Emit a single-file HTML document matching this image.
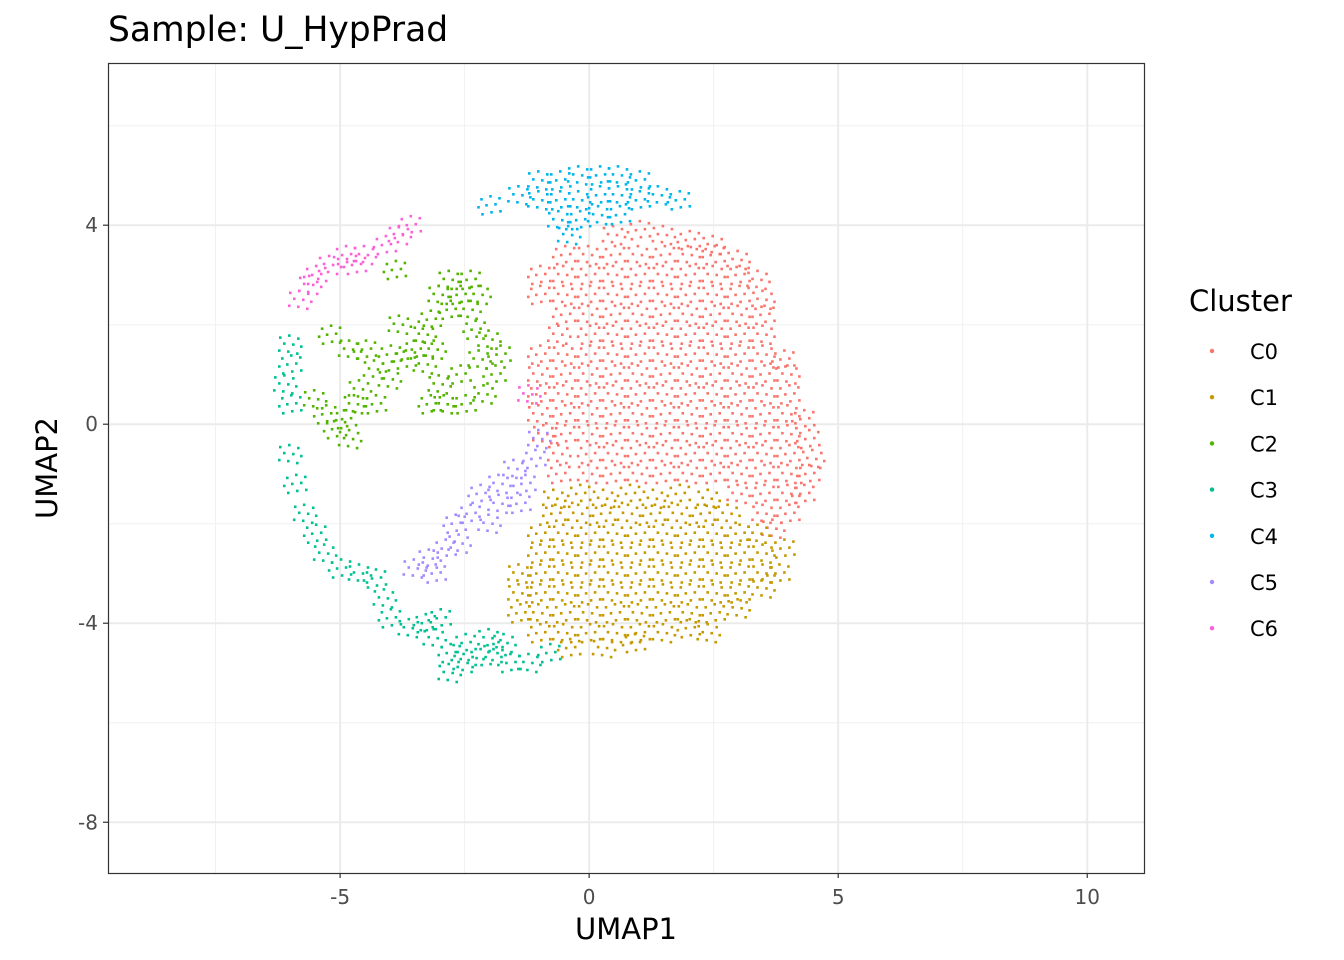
<!DOCTYPE html>
<html><head><meta charset="utf-8"><style>
html,body{margin:0;padding:0;background:#fff;}
svg{display:block;font-family:"DejaVu Sans","Liberation Sans",sans-serif;}
</style></head><body>
<svg id="chart" width="1344" height="960" viewBox="0 0 1344 960">
<text x="108" y="41" font-size="34.5" fill="#000">Sample: U_HypPrad</text>
<g id="grid"></g>
<g id="points"></g>
<rect x="108.5" y="63.5" width="1036" height="810" fill="none" stroke="#333" stroke-width="1.2"/>
<g id="axes"></g>
<text x="626" y="939" font-size="29" text-anchor="middle" fill="#000">UMAP1</text>
<text x="0" y="0" font-size="29" text-anchor="middle" fill="#000" transform="translate(57,468) rotate(-90)">UMAP2</text>
<text x="1189" y="311" font-size="29" fill="#000">Cluster</text>
<g id="legend"></g>
</svg>
<script>
const clusterNames = ["C0","C1","C2","C3","C4","C5","C6"];
const clusterColors = ["#F8766D","#C49A00","#53B400","#00C094","#00B6EB","#A58AFF","#FB61D7"];
const xTicks = [-5,0,5,10];
const yTicks = [4,0,-4,-8];
const xMinor = [-7.5,-2.5,2.5,7.5];
const yMinor = [6,2,-2,-6];
const c0Points = [
[0.5,3.8],[1,3.9],[1.5,3.8],[2,3.7],[2.5,3.6],
[-0.5,3.4],[0,3.4],[0.5,3.4],[1,3.4],[1.5,3.4],[2,3.4],[2.5,3.4],[3,3.3],
[-1,3.0],[-0.5,3.0],[0,3.0],[0.5,3.0],[1,3.0],[1.5,3.0],[2,3.0],[2.5,3.0],[3,3.0],[3.4,2.9],
[-1,2.6],[-0.5,2.6],[0,2.6],[0.5,2.6],[1,2.6],[1.5,2.6],[2,2.6],[2.5,2.6],[3,2.6],[3.5,2.5],
[-0.5,2.2],[0,2.2],[0.5,2.2],[1,2.2],[1.5,2.2],[2,2.2],[2.5,2.2],[3,2.2],[3.5,2.2],
[-0.6,1.8],[0,1.8],[0.5,1.8],[1,1.8],[1.5,1.8],[2,1.8],[2.5,1.8],[3,1.8],[3.5,1.8],
[-1,1.4],[-0.5,1.4],[0,1.4],[0.5,1.4],[1,1.4],[1.5,1.4],[2,1.4],[2.5,1.4],[3,1.4],[3.5,1.4],[3.9,1.3],
[-1,1.0],[-0.5,1.0],[0,1.0],[0.5,1.0],[1,1.0],[1.5,1.0],[2,1.0],[2.5,1.0],[3,1.0],[3.5,1.0],[4,1.0],
[-1,0.6],[-0.5,0.6],[0,0.6],[0.5,0.6],[1,0.6],[1.5,0.6],[2,0.6],[2.5,0.6],[3,0.6],[3.5,0.6],[4,0.6],
[-1,0.2],[-0.5,0.2],[0,0.2],[0.5,0.2],[1,0.2],[1.5,0.2],[2,0.2],[2.5,0.2],[3,0.2],[3.5,0.2],[4,0.2],[4.3,0.1],
[-0.9,-0.2],[-0.5,-0.2],[0,-0.2],[0.5,-0.2],[1,-0.2],[1.5,-0.2],[2,-0.2],[2.5,-0.2],[3,-0.2],[3.5,-0.2],[4,-0.2],[4.4,-0.3],
[-0.6,-0.6],[0,-0.6],[0.5,-0.6],[1,-0.6],[1.5,-0.6],[2,-0.6],[2.5,-0.6],[3,-0.6],[3.5,-0.6],[4,-0.6],[4.5,-0.7],
[-0.6,-1.0],[0,-1.0],[0.5,-1.0],[1,-1.0],[1.5,-1.0],[2,-1.0],[2.5,-1.0],[3,-1.0],[3.5,-1.0],[4,-1.0],[4.4,-1.0],
[3,-1.4],[3.5,-1.4],[4,-1.4],[4.3,-1.4],
[3.5,-1.8],[4,-1.8],[3.7,-2.1]
];
const c1Points = [
[-0.7,-1.5],[-0.2,-1.4],[0.3,-1.5],[0.8,-1.4],[1.3,-1.5],[1.8,-1.4],[2.4,-1.5],
[-0.7,-1.8],[-0.2,-1.8],[0.3,-1.8],[0.8,-1.8],[1.3,-1.8],[1.8,-1.8],[2.3,-1.8],[2.8,-1.8],
[-1.0,-2.2],[-0.5,-2.2],[0,-2.2],[0.5,-2.2],[1,-2.2],[1.5,-2.2],[2,-2.2],[2.5,-2.2],[3,-2.2],[3.4,-2.2],
[-1.0,-2.6],[-0.5,-2.6],[0,-2.6],[0.5,-2.6],[1,-2.6],[1.5,-2.6],[2,-2.6],[2.5,-2.6],[3,-2.6],[3.5,-2.6],[3.9,-2.5],
[-1.4,-3.0],[-1,-3.0],[-0.5,-3.0],[0,-3.0],[0.5,-3.0],[1,-3.0],[1.5,-3.0],[2,-3.0],[2.5,-3.0],[3,-3.0],[3.5,-3.0],[3.8,-3.0],
[-1.4,-3.4],[-1,-3.4],[-0.5,-3.4],[0,-3.4],[0.5,-3.4],[1,-3.4],[1.5,-3.4],[2,-3.4],[2.5,-3.4],[3,-3.4],[3.5,-3.3],
[-1.4,-3.8],[-1,-3.8],[-0.5,-3.8],[0,-3.8],[0.5,-3.8],[1,-3.8],[1.5,-3.8],[2,-3.8],[2.5,-3.8],[3,-3.7],
[-1.0,-4.2],[-0.5,-4.2],[0,-4.2],[0.5,-4.2],[1,-4.2],[1.5,-4.2],[2,-4.1],[2.4,-4.2],
[-0.4,-4.5],[0.3,-4.5],[0.9,-4.4]
];
const c2Points = [
[-2.8,2.9],[-2.4,2.9],[-3.0,2.6],[-2.6,2.6],[-2.2,2.6],[-2.8,2.3],[-2.4,2.3],[-3.2,2.1],[-3.3,1.8],[-3.5,1.5],
[-3.1,1.5],[-3.7,1.3],[-3.3,1.2],[-4.0,1.4],[-4.3,1.1],[-4.5,1.5],[-4.0,0.9],[-2.3,1.9],[-2.0,1.7],[-1.8,1.4],
[-2.2,1.3],[-1.9,1.0],[-2.1,0.6],[-2.5,0.4],[-2.9,0.4],[-3.2,0.4],[-3.0,0.8],[-4.9,0.1],[-4.7,0.4],[-5.1,-0.1],
[-4.8,-0.3],[-5.3,0.2],[-4.6,0.7],[-5.2,1.8],[-4.8,1.5],[-3.9,3.1],[-5.5,0.5],[-2.6,1.0],[-3.8,2.0],[-4.3,0.4]
];
const c3Points = [
[-6.0,1.6],[-6.0,1.2],[-6.1,0.8],[-6.0,0.4],[-6.0,-0.6],[-5.9,-1.2],[-5.7,-1.8],[-5.5,-2.2],[-5.3,-2.6],[-5.0,-2.9],
[-4.6,-3.0],[-4.3,-3.1],[-4.1,-3.5],[-4.0,-3.9],[-3.6,-4.1],[-3.3,-4.0],[-3.1,-4.3],[-2.8,-4.6],[-2.5,-4.8],[-2.2,-4.7],
[-1.9,-4.6],[-1.6,-4.8],[-1.2,-4.8],[-2.5,-4.4],[-2.0,-4.3],[-3.0,-3.9],[-1.7,-4.4],[-0.8,-4.6],[-2.8,-5.0]
];
const c4Points = [
[-1.0,4.9],[-0.6,4.9],[-0.2,5.0],[0.2,5.0],[0.6,5.0],[1.0,4.9],[-1.0,4.5],[-0.6,4.5],[-0.2,4.5],[0.2,4.6],
[0.6,4.6],[1.0,4.5],[1.4,4.6],[1.8,4.5],[-0.6,4.1],[-0.2,4.1],[0.2,4.2],[0.6,4.2],[-1.4,4.6],[-2.0,4.4],[-0.4,3.8]
];
const c5Points = [
[-1.0,-0.3],[-1.1,-0.7],[-1.5,-0.9],[-1.3,-1.2],[-1.8,-1.2],[-2.2,-1.4],[-1.8,-1.6],[-2.4,-1.8],[-2.0,-2.0],
[-2.7,-2.0],[-2.6,-2.4],[-2.9,-2.5],[-3.2,-2.7],[-3.1,-3.0],[-3.5,-2.9],[-1.4,-1.6]
];
const c6Points = [
[-5.6,2.8],[-5.5,3.0],[-5.2,3.2],[-4.9,3.4],[-4.5,3.4],[-4.1,3.6],[-3.8,3.8],[-3.6,4.0],[-5.8,2.5],[-4.7,3.2],[-1.2,0.6]
];
const allClusters = [c0Points,c1Points,c2Points,c3Points,c4Points,c5Points,c6Points];

const NS = "http://www.w3.org/2000/svg";
const PX0 = 108, PX1 = 1144, PY0 = 63, PY1 = 873;
const XMIN = -9.66, XMAX = 11.14, YMIN = -9.02, YMAX = 7.26;
function sx(v){ return PX0 + (v - XMIN) / (XMAX - XMIN) * (PX1 - PX0); }
function sy(v){ return PY1 - (v - YMIN) / (YMAX - YMIN) * (PY1 - PY0); }
function mk(tag, attrs, parent){ const e = document.createElementNS(NS, tag); for (const k in attrs) e.setAttribute(k, attrs[k]); parent.appendChild(e); return e; }

const grid = document.getElementById('grid');
const bg = mk('rect', {x:PX0, y:PY0, width:PX1-PX0, height:PY1-PY0, fill:'#fff'}, grid);


xMinor.forEach(v => { const l = mk('line', {x1:sx(v), x2:sx(v), y1:PY0, y2:PY1, stroke:'#f0f0f0', 'stroke-width':1}, grid);
  
   });
yMinor.forEach(v => { const l = mk('line', {x1:PX0, x2:PX1, y1:sy(v), y2:sy(v), stroke:'#f0f0f0', 'stroke-width':1}, grid);
  
   });
xTicks.forEach(v => { const l = mk('line', {x1:sx(v), x2:sx(v), y1:PY0, y2:PY1, stroke:'#ebebeb', 'stroke-width':2}, grid);
  
   });
yTicks.forEach(v => { const l = mk('line', {x1:PX0, x2:PX1, y1:sy(v), y2:sy(v), stroke:'#ebebeb', 'stroke-width':2}, grid);
  
   });

const axes = document.getElementById('axes');
xTicks.forEach(v => {
  const t = mk('line', {x1:sx(v), x2:sx(v), y1:PY1, y2:PY1+5, stroke:'#333', 'stroke-width':1.2}, axes);
  
  
  const s = mk('text', {x:sx(v), y:PY1+31, 'font-size':20, 'text-anchor':'middle', fill:'#4d4d4d'}, axes);
  s.textContent = String(v);
  
  
});
yTicks.forEach(v => {
  const t = mk('line', {x1:PX0-5, x2:PX0, y1:sy(v), y2:sy(v), stroke:'#333', 'stroke-width':1.2}, axes);
  
  
  const s = mk('text', {x:PX0-10, y:sy(v)+7, 'font-size':20, 'text-anchor':'end', fill:'#4d4d4d'}, axes);
  s.textContent = String(v);
  
  
});

// each data point is drawn as a small cell of dots (styling only)
const dotOffsets = [[-10,-7],[-1,-9],[8,-6],[-6,-1],[3,0],[11,2],[-11,6],[-2,7],[7,9]];
const pts = document.getElementById('points');
allClusters.forEach((arr, ci) => {
  const g = mk('g', {fill: clusterColors[ci]}, pts);
  
  
  arr.forEach((p, pi) => {
    const cx = sx(p[0]), cy = sy(p[1]);
    const flip = (pi % 2) ? -1 : 1;
    dotOffsets.forEach(o => {
      const r = mk('rect', {x:(cx+o[0]*flip-1.3).toFixed(1), y:(cy+o[1]-1.3).toFixed(1), width:2.6, height:2.6}, g);
      
      
    });
  });
});

const legend = document.getElementById('legend');
clusterNames.forEach((n, i) => {
  const y = 351 + i * 46.2;
  const gi = mk('g', {}, legend);
  
  
  const c = mk('circle', {cx:1212, cy:y, r:2.2, fill:clusterColors[i]}, gi);
  
  
  const t = mk('text', {x:1250, y:y+8, 'font-size':21, fill:'#000'}, gi);
  t.textContent = n;
  
  
});
</script>
</body></html>
